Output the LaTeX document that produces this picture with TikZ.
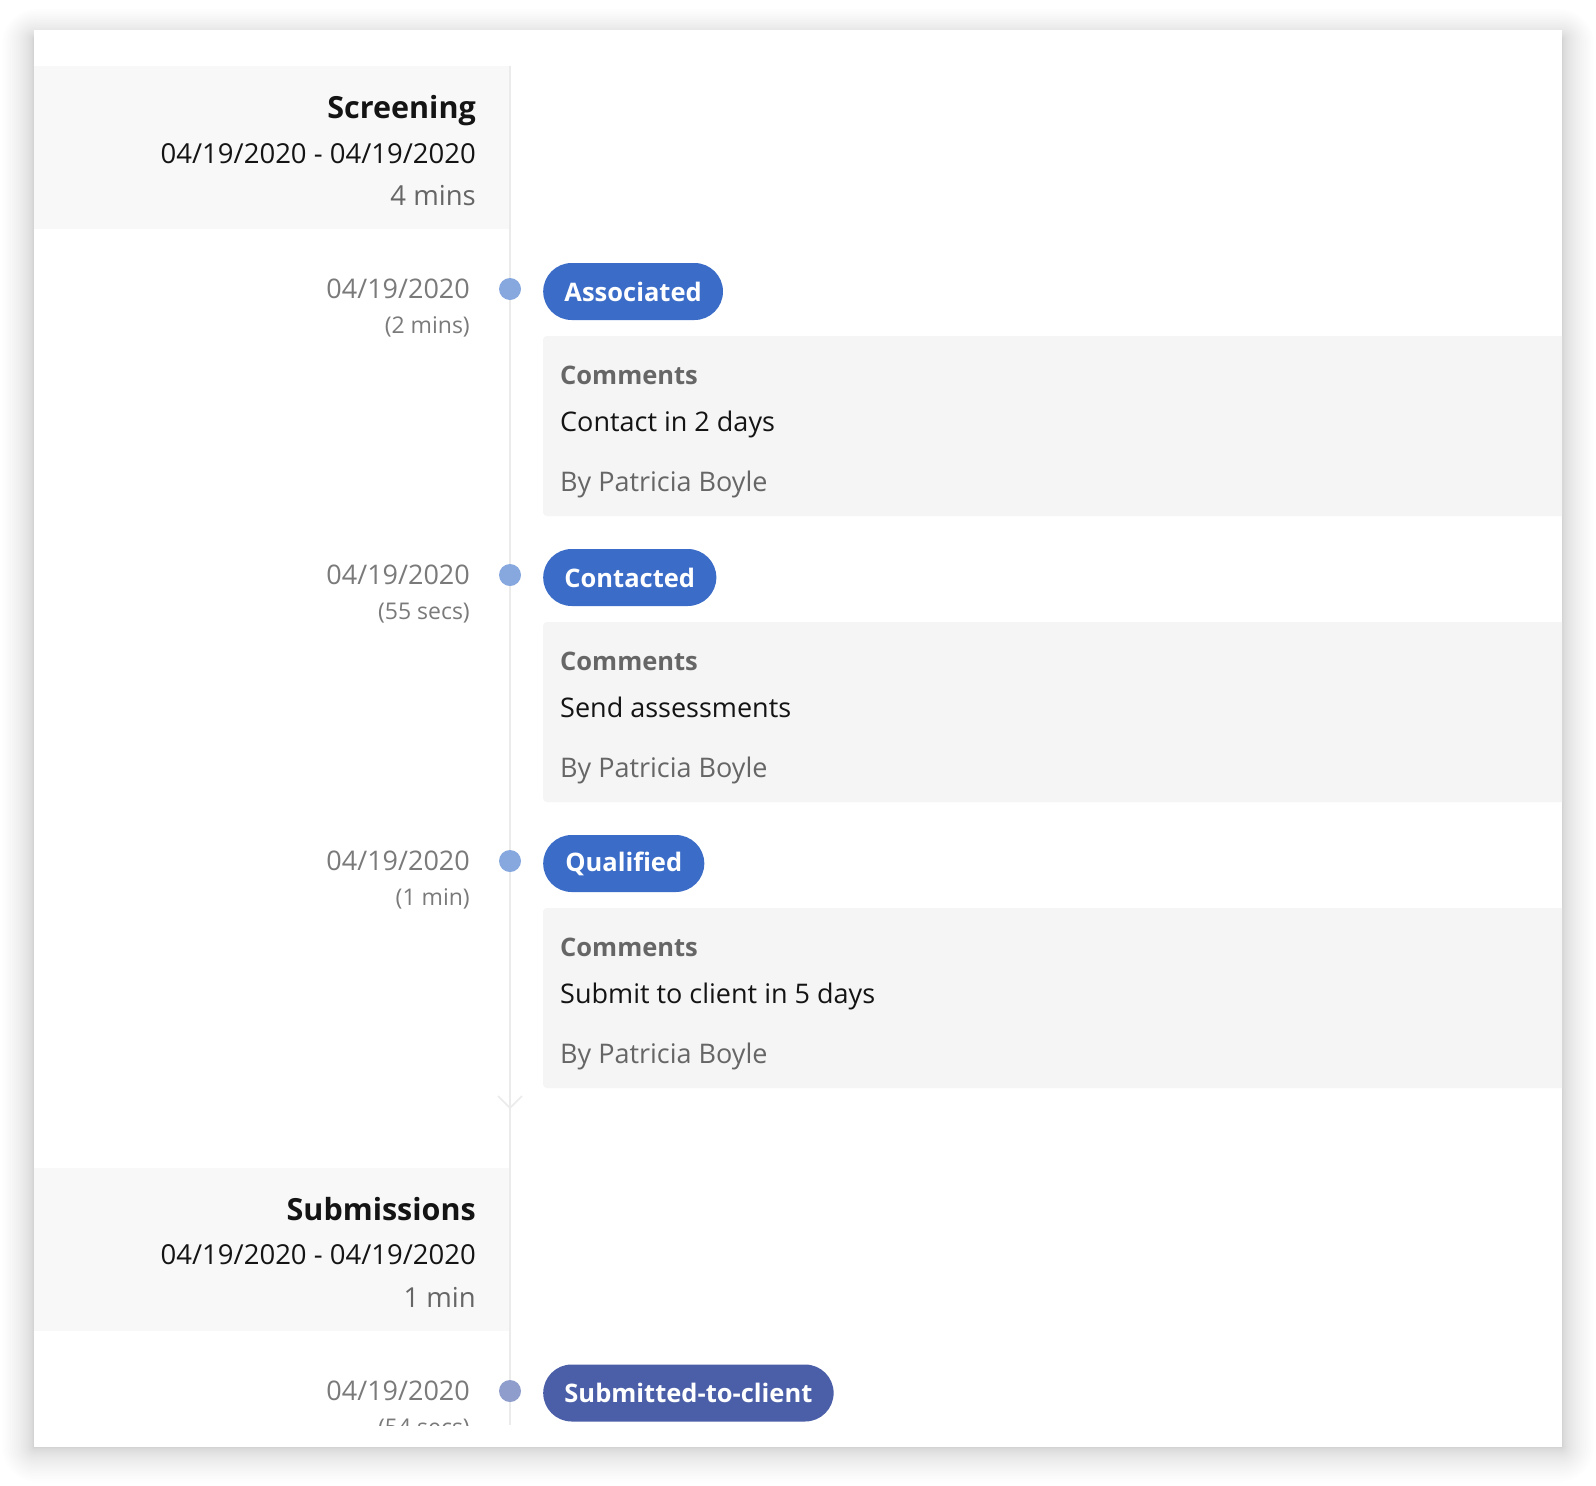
\documentclass[tikz,border=0pt]{standalone}
\usepackage{fontspec}
\setmainfont{Open Sans}
\usepackage{xcolor}
\usetikzlibrary{positioning,shapes.misc}

\definecolor{pillblue}{HTML}{3A6CC8}
\definecolor{pillnavy}{HTML}{4A5FA8}
\definecolor{dotblue}{HTML}{86A8DE}
\definecolor{dotnavy}{HTML}{8F9DCC}
\definecolor{headgray}{HTML}{F8F8F8}
\definecolor{boxgray}{HTML}{F5F5F5}
\definecolor{linegray}{HTML}{EBEBEB}
\definecolor{txtgray}{HTML}{666666}
\definecolor{dategray}{HTML}{7A7A7A}
\definecolor{inkblack}{HTML}{141414}

\newcommand{\tlsize}[1]{\fontsize{#1}{#1}\selectfont}

\begin{document}
\begin{tikzpicture}[x=1pt, y=-1pt,
  stagetitle/.style={anchor=base east, inner sep=0pt, text=inkblack, font={\bfseries\tlsize{30.5}}},
  stagedate/.style={anchor=base east, inner sep=0pt, text=inkblack, font={\tlsize{27.5}}},
  stagelen/.style={anchor=base east, inner sep=0pt, text=txtgray, font={\tlsize{27.5}}},
  evdate/.style={anchor=base east, inner sep=0pt, text=dategray, font={\tlsize{27}}},
  evlen/.style={anchor=base east, inner sep=0pt, text=dategray, font={\tlsize{23}}},
  dot/.style={circle, fill=dotblue, minimum size=22pt, inner sep=0pt},
  pill/.style={rounded rectangle, fill=pillblue, text=white, minimum height=57pt,
    inner xsep=19.5pt, inner ysep=0pt, anchor=west, font={\bfseries\tlsize{25.5}}},
  chead/.style={anchor=base west, inner sep=0pt, text=txtgray, font={\bfseries\tlsize{25.5}}},
  ctext/.style={anchor=base west, inner sep=0pt, text=inkblack, font={\tlsize{27}}},
  cby/.style={anchor=base west, inner sep=0pt, text=txtgray, font={\tlsize{27}}}]
\useasboundingbox (0,0) rectangle (1596,1486);

% card with its shadow
\foreach \s in {1,...,24}
  \fill[black, opacity=0.008, rounded corners=0.06*\s*\s pt]
    (34-0.055*\s*\s, 38-0.05*\s*\s) rectangle (1562+0.055*\s*\s, 1447+0.06*\s*\s);
\fill[white] (34,30) rectangle (1562,1447);

\begin{scope}
\clip (34,30) rectangle (1562,1425);

% stage headers
\fill[headgray] (34,66) rectangle (509,229);
\fill[headgray] (34,1168) rectangle (509,1331);

% timeline
\coordinate (ltop) at (510,66);
\coordinate (lbot) at (510,1425);
\draw[linegray, line width=2pt] (ltop) -- (lbot);
\coordinate (chev) at (510,1108);
\draw[linegray, line width=1.5pt] (chev) ++(-12,-12) -- (chev) -- ++(12,-12);

\node[stagetitle] (S1) at (476,118) {Screening};
\node[stagedate] (S1d) at (476,163) {04/19/2020 - 04/19/2020};
\node[stagelen] (S1l) at (476,205) {4 mins};

% Associated
\node[evdate] (T1) at (470,298) {04/19/2020};
\node[evlen] (U1) at (470,333) {(2 mins)};
\node[dot] (D1) at (510,289) {};
\node[pill] (P1) at (543,291.5) {Associated};
\fill[boxgray, rounded corners=4pt] (543,336) rectangle (1600,516);
\node[chead] (C1) at (560,384) {Comments};
\node[ctext] (M1) at (560,431) {Contact in 2 days};
\node[cby] (B1) at (560,491) {By Patricia Boyle};

% Contacted
\node[evdate] (T2) at (470,584) {04/19/2020};
\node[evlen] (U2) at (470,619) {(55 secs)};
\node[dot] (D2) at (510,575) {};
\node[pill] (P2) at (543,577.5) {Contacted};
\fill[boxgray, rounded corners=4pt] (543,622) rectangle (1600,802);
\node[chead] (C2) at (560,670) {Comments};
\node[ctext] (M2) at (560,717) {Send assessments};
\node[cby] (B2) at (560,777) {By Patricia Boyle};

% Qualified
\node[evdate] (T3) at (470,870) {04/19/2020};
\node[evlen] (U3) at (470,905) {(1 min)};
\node[dot] (D3) at (510,861) {};
\node[pill] (P3) at (543,863.5) {Qualified};
\fill[boxgray, rounded corners=4pt] (543,908) rectangle (1600,1088);
\node[chead] (C3) at (560,956) {Comments};
\node[ctext] (M3) at (560,1003) {Submit to client in 5 days};
\node[cby] (B3) at (560,1063) {By Patricia Boyle};

\node[stagetitle] (S2) at (476,1220) {Submissions};
\node[stagedate] (S2d) at (476,1264) {04/19/2020 - 04/19/2020};
\node[stagelen] (S2l) at (476,1307) {1 min};

% Submitted-to-client
\node[evdate] (T4) at (470,1400) {04/19/2020};
\node[evlen] (U4) at (470,1435) {(54 secs)};
\node[dot, fill=dotnavy] (D4) at (510,1391) {};
\node[pill, fill=pillnavy] (P4) at (543,1393) {Submitted-to-client};
\end{scope}
\end{tikzpicture}
\end{document}
